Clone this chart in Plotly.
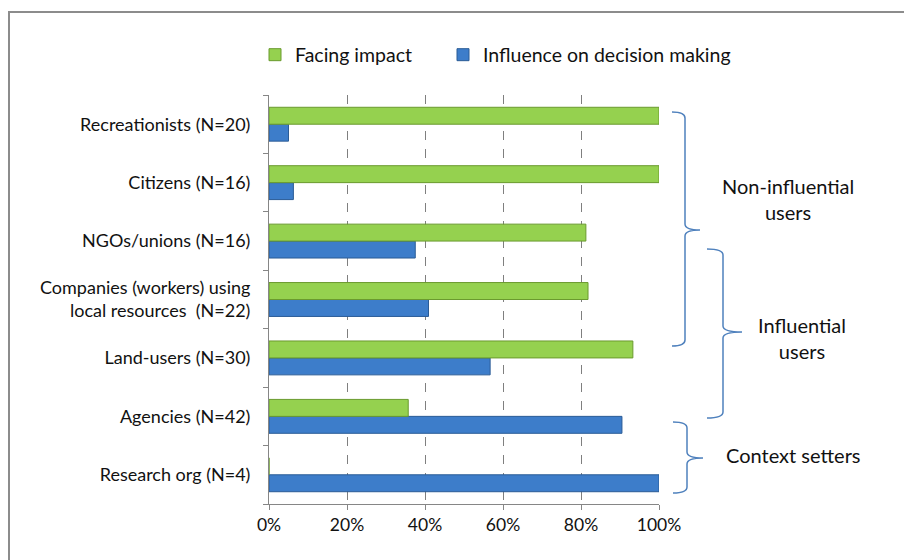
import plotly.graph_objects as go

# Stakeholder groups, listed top to bottom as they appear on the chart
categories = [
    "Recreationists (N=20)",
    "Citizens (N=16)",
    "NGOs/unions (N=16)",
    "Companies (workers) using<br>local resources \u00a0(N=22)",
    "Land-users (N=30)",
    "Agencies (N=42)",
    "Research org (N=4)",
]
facing_impact = [100.0, 100.0, 81.25, 81.8, 93.3, 35.7, 0.0]
influence = [5.0, 6.25, 37.5, 40.9, 56.7, 90.5, 100.0]
x_ticks = [0, 20, 40, 60, 80, 100]
x_tick_labels = ["0%", "20%", "40%", "60%", "80%", "100%"]

groups = [
    ("Non-influential<br>users", 788, 199),
    ("Influential<br>users", 802, 338),
    ("Context setters", 793, 455),
]

FONT = "Lato"
INK = "#111111"
W, H = 904, 560
L, R, T, B = 269, 659, 95, 504  # plot area in pixels


def px_x(px):
    return (px - L) / (R - L)


def px_y(py):
    return (B - py) / (B - T)


def brace(left, spine, tipx, top, tip, bottom, r=6):
    pts = [
        f"M {px_x(left)} {px_y(top)}",
        f"Q {px_x(spine)} {px_y(top)} {px_x(spine)} {px_y(top + r)}",
        f"L {px_x(spine)} {px_y(tip - r)}",
        f"Q {px_x(spine)} {px_y(tip)} {px_x(tipx)} {px_y(tip)}",
        f"Q {px_x(spine)} {px_y(tip)} {px_x(spine)} {px_y(tip + r)}",
        f"L {px_x(spine)} {px_y(bottom - r)}",
        f"Q {px_x(spine)} {px_y(bottom)} {px_x(left)} {px_y(bottom)}",
    ]
    return " ".join(pts)


order = categories[::-1]

fig = go.Figure()
fig.add_trace(go.Bar(
    y=categories, x=influence, orientation="h",
    name="Influence on decision making", legend="legend2",
    marker=dict(color="#3D7DCA", line=dict(color="#2B5C96", width=1)),
))
fig.add_trace(go.Bar(
    y=categories, x=facing_impact, orientation="h",
    name="Facing impact", legend="legend",
    marker=dict(color="#95D14F", line=dict(color="#6A9A2E", width=1)),
))

shapes = [
    # outer frame of the chart
    dict(type="rect", xref="paper", yref="paper",
         x0=px_x(9), x1=px_x(912), y0=px_y(12), y1=px_y(570),
         line=dict(color="#8C8C8C", width=2), fillcolor="rgba(0,0,0,0)", layer="below"),
    dict(type="path", xref="paper", yref="paper",
         path=brace(672, 685, 700, 112, 230, 346),
         line=dict(color="#4F81BD", width=1.5)),
    dict(type="path", xref="paper", yref="paper",
         path=brace(707, 723, 742, 249, 332, 418),
         line=dict(color="#4F81BD", width=1.5)),
    dict(type="path", xref="paper", yref="paper",
         path=brace(673, 687, 703, 422, 458, 493),
         line=dict(color="#4F81BD", width=1.5)),
]

annotations = [
    dict(text=t, x=px_x(x), y=px_y(y), xref="paper", yref="paper",
         showarrow=False, xanchor="center", yanchor="middle",
         font=dict(family=FONT, size=20, color=INK))
    for t, x, y in groups
]

legend_common = dict(orientation="h", yanchor="middle", y=px_y(55),
                     xanchor="left", itemwidth=30, bgcolor="rgba(0,0,0,0)",
                     font=dict(family=FONT, size=19.5, color=INK))

fig.update_layout(
    width=W, height=H,
    margin=dict(l=L, r=W - R, t=T, b=H - B),
    paper_bgcolor="white", plot_bgcolor="white",
    barmode="group", bargap=0.42, bargroupgap=0.0,
    font=dict(family=FONT, size=18, color=INK),
    legend=dict(x=px_x(255), **legend_common),
    legend2=dict(x=px_x(443), **legend_common),
    shapes=shapes,
    annotations=annotations,
    showlegend=True,
)

fig.update_xaxes(
    range=[0, 100], tickvals=x_ticks, ticktext=x_tick_labels,
    showline=True, linecolor="#868686", linewidth=1,
    ticks="outside", ticklen=5, tickcolor="#868686",
    showgrid=True, gridcolor="#7F7F7F", griddash="dash", gridwidth=1,
    zeroline=False, tickfont=dict(family=FONT, size=17.5, color=INK),
)
fig.update_yaxes(
    type="category", categoryorder="array", categoryarray=order,
    range=[-0.5, len(categories) - 0.5],
    showline=True, linecolor="#868686", linewidth=1,
    ticks="outside", ticklen=5, tickcolor="#868686", tickson="boundaries",
    showgrid=False, ticklabelstandoff=14,
    tickfont=dict(family=FONT, size=18, color=INK),
)

fig.write_html("out.html")
